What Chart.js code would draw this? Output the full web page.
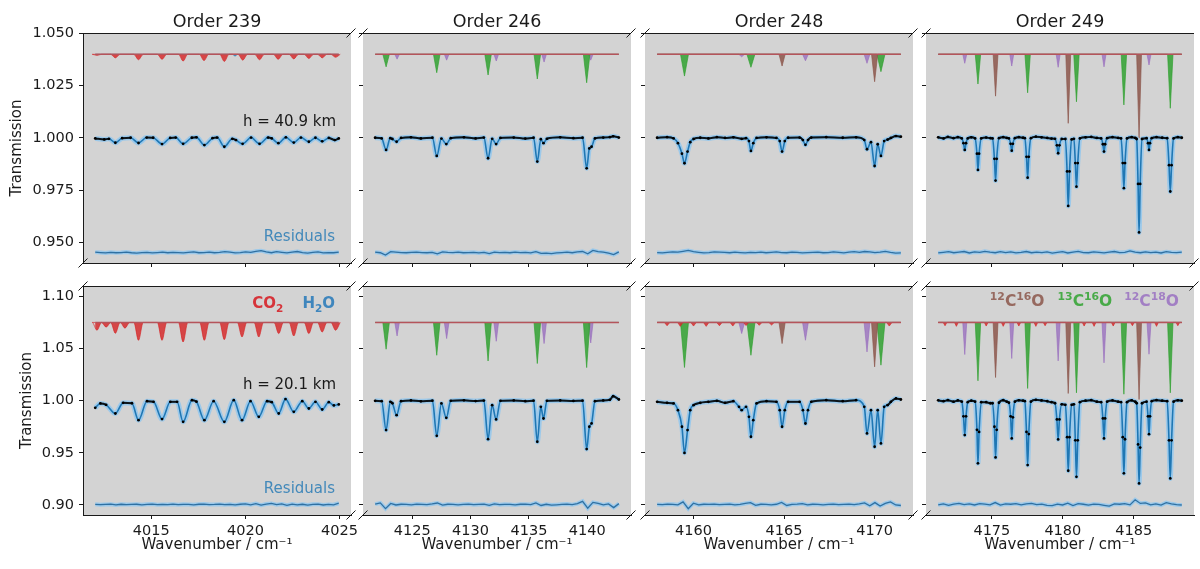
<!DOCTYPE html>
<html>
<head>
<meta charset="utf-8">
<script src="https://cdn.jsdelivr.net/npm/chart.js@4.4.0/dist/chart.umd.min.js"></script>
<style>
  html, body { margin: 0; padding: 0; background: #fff; }
  #fig { position: relative; width: 1200px; height: 569px; overflow: hidden; }
  #fig canvas { position: absolute; }
</style>
</head>
<body>
<div id="fig"></div>
<script>
// ---- spectra: [wavenumber, transmission] ----
const spec239Top = [[4012.02,0.9998],[4012.5,0.9993],[4012.75,0.9996],[4013.09,0.9977],[4013.45,0.9999],[4013.9,1.0001],[4014.32,0.9976],[4014.75,1.0002],[4015.1,1.0001],[4015.57,0.9971],[4016.0,1.0000],[4016.3,1.0002],[4016.69,0.9972],[4017.15,1.0001],[4017.4,1.0003],[4017.82,0.9966],[4018.25,0.9999],[4018.5,1.0002],[4018.88,0.9958],[4019.3,0.9996],[4019.5,0.9990],[4019.85,0.9972],[4020.3,1.0002],[4020.75,0.9972],[4021.2,1.0002],[4021.4,0.9998],[4021.75,0.9975],[4022.15,1.0003],[4022.57,0.9978],[4022.95,1.0002],[4023.37,0.9982],[4023.72,1.0001],[4024.08,0.9984],[4024.43,1.0000],[4024.75,0.9990],[4024.96,0.9998]];
const spec239Bot = [[4012.02,0.9931],[4012.29,0.9973],[4012.6,0.9960],[4013.09,0.9877],[4013.5,0.9979],[4013.97,0.9975],[4014.32,0.9813],[4014.77,0.9995],[4015.12,0.9989],[4015.57,0.9823],[4016.01,0.9989],[4016.37,0.9989],[4016.69,0.9797],[4017.16,1.0005],[4017.4,0.9990],[4017.82,0.9813],[4018.31,0.9995],[4018.88,0.9797],[4019.38,1.0005],[4019.82,0.9813],[4020.27,0.9995],[4020.71,0.9845],[4021.15,0.9995],[4021.4,0.9985],[4021.77,0.9877],[4022.13,1.0015],[4022.57,0.9893],[4023.02,0.9995],[4023.37,0.9925],[4023.72,0.9989],[4024.08,0.9915],[4024.43,0.9985],[4024.70,0.9954],[4024.96,0.9964]];
const spec246Top = [[4121.82,1.0001],[4122.38,0.9998],[4122.76,0.9943],[4123.12,0.9999],[4123.3,0.9995],[4123.66,0.9982],[4124.04,1.0],[4124.89,1.0003],[4125.74,0.9998],[4126.73,1.0001],[4127.1,0.9914],[4127.5,0.9997],[4127.92,0.9971],[4128.3,0.9999],[4129.43,1.0003],[4130.43,0.9998],[4131.14,1.0002],[4131.5,0.9903],[4131.85,0.9996],[4132.19,0.9971],[4132.56,1.0],[4133.7,1.0002],[4134.69,0.9997],[4135.4,1.0001],[4135.72,0.9887],[4136.02,0.9994],[4136.25,0.9975],[4136.54,0.9996],[4137.68,1.0003],[4138.81,0.9999],[4139.6,1.0001],[4139.95,0.9855],[4140.18,0.9950],[4140.37,0.9958],[4140.66,0.9998],[4141.37,1.0002],[4141.94,1.0004],[4142.22,1.0008],[4142.71,1.0002]];
const spec246Bot = [[4121.82,0.9998],[4122.38,0.9995],[4122.76,0.9718],[4123.12,0.9989],[4123.3,0.9975],[4123.66,0.9861],[4124.04,0.9995],[4124.89,1.0002],[4125.74,0.9994],[4126.73,1.0],[4127.1,0.9663],[4127.5,0.9973],[4127.92,0.9835],[4128.3,0.9998],[4129.43,1.0003],[4130.43,0.9996],[4131.14,1.0001],[4131.5,0.9631],[4131.85,0.9957],[4132.19,0.982],[4132.56,0.9998],[4133.7,1.0002],[4134.69,0.9995],[4135.4,1.0],[4135.72,0.9606],[4136.02,0.9941],[4136.25,0.9829],[4136.54,0.9998],[4137.68,1.0002],[4138.81,0.9997],[4139.6,1.0],[4139.95,0.9536],[4140.18,0.975],[4140.37,0.9782],[4140.66,0.9995],[4141.37,1.0002],[4141.94,1.0008],[4142.22,1.0043],[4142.71,1.0011]];
const spec248Top = [[4157.99,1.0001],[4158.54,1.0004],[4158.9,0.9998],[4159.14,0.9975],[4159.36,0.9925],[4159.5,0.9879],[4159.67,0.9935],[4159.82,0.9980],[4160.0,0.9995],[4160.37,1.0001],[4160.82,0.9998],[4161.29,1.0004],[4161.74,1.0],[4162.2,1.0003],[4162.66,0.9996],[4162.9,0.9999],[4163.06,0.9985],[4163.17,0.9938],[4163.3,0.9975],[4163.48,1.0],[4164.03,1.0003],[4164.58,1.0],[4164.76,0.9985],[4164.89,0.9935],[4165.04,0.9985],[4165.22,1.0001],[4165.86,1.0002],[4166.04,0.9990],[4166.18,0.9967],[4166.32,0.9990],[4166.5,1.0002],[4167.33,1.0004],[4168.24,1.0001],[4168.98,1.0003],[4169.43,0.9990],[4169.58,0.9946],[4169.8,0.9980],[4170.0,0.9866],[4170.17,0.9970],[4170.35,0.9914],[4170.53,0.9985],[4170.71,0.9992],[4170.9,1.0],[4171.18,1.0009],[4171.45,1.0006]];
const spec248Bot = [[4157.99,0.9989],[4158.54,0.9979],[4158.9,0.9973],[4159.14,0.9909],[4159.36,0.975],[4159.5,0.9499],[4159.67,0.9718],[4159.82,0.9909],[4160.0,0.9957],[4160.37,0.9979],[4160.82,0.9989],[4161.29,0.9998],[4161.74,0.9979],[4162.2,0.9995],[4162.51,0.9941],[4162.66,0.9909],[4162.9,0.9941],[4163.06,0.9845],[4163.17,0.9654],[4163.3,0.9813],[4163.48,0.9973],[4164.03,0.9995],[4164.58,0.9989],[4164.76,0.9909],[4164.89,0.975],[4165.04,0.9909],[4165.22,0.9989],[4165.86,0.9989],[4166.04,0.9909],[4166.18,0.9781],[4166.32,0.9909],[4166.5,0.9989],[4167.33,1.0005],[4168.24,0.9995],[4168.98,1.0005],[4169.43,0.9941],[4169.58,0.9686],[4169.8,0.9909],[4170.0,0.9558],[4170.17,0.9909],[4170.35,0.959],[4170.53,0.9941],[4170.71,0.9957],[4170.9,0.9989],[4171.18,1.0021],[4171.45,1.0011]];
const spec249Top = [[4171.22,1.0003],[4171.6,0.9998],[4171.9,1.0005],[4172.3,0.9999],[4172.6,1.0004],[4172.88,0.9998],[4173.0,0.9975],[4173.09,0.9943],[4173.18,0.9975],[4173.3,0.9998],[4173.55,1.0003],[4173.82,0.9998],[4173.95,0.9925],[4174.02,0.9847],[4174.1,0.9925],[4174.25,0.9998],[4174.6,1.0002],[4174.9,0.9999],[4175.05,0.9998],[4175.18,0.990],[4175.26,0.9796],[4175.34,0.990],[4175.5,0.9999],[4175.8,1.0004],[4176.05,1.0],[4176.2,0.9998],[4176.32,0.9972],[4176.4,0.9939],[4176.48,0.9972],[4176.62,0.9999],[4176.9,1.0004],[4177.2,1.0001],[4177.32,0.9999],[4177.44,0.991],[4177.52,0.981],[4177.6,0.991],[4177.75,0.9999],[4178.1,1.0006],[4178.5,1.0003],[4178.9,1.0],[4179.2,0.9997],[4179.45,0.9996],[4179.58,0.9965],[4179.67,0.9927],[4179.76,0.9965],[4179.92,0.9995],[4180.18,0.9995],[4180.3,0.984],[4180.38,0.9675],[4180.47,0.984],[4180.62,0.9993],[4180.78,0.9996],[4180.88,0.988],[4180.96,0.9767],[4181.05,0.988],[4181.2,0.9998],[4181.6,1.0003],[4182.0,1.0005],[4182.4,1.0],[4182.7,0.9998],[4182.82,0.997],[4182.9,0.9935],[4182.98,0.997],[4183.12,0.9999],[4183.5,1.0004],[4183.9,1.0],[4184.1,0.9998],[4184.22,0.988],[4184.3,0.976],[4184.38,0.988],[4184.52,0.9998],[4184.85,1.0004],[4185.1,1.0],[4185.2,0.9995],[4185.3,0.978],[4185.37,0.9548],[4185.45,0.978],[4185.58,0.9995],[4185.9,0.9999],[4186.0,0.9975],[4186.07,0.9943],[4186.14,0.9975],[4186.26,0.9999],[4186.6,1.0004],[4187.0,1.0001],[4187.35,0.9999],[4187.48,0.987],[4187.57,0.9744],[4187.66,0.987],[4187.8,0.9998],[4188.1,1.0004],[4188.38,1.0001]];
const spec249Bot = [[4171.22,1.0003],[4171.6,0.9995],[4171.9,1.0005],[4172.3,0.9990],[4172.6,1.0002],[4172.88,0.9990],[4173.0,0.985],[4173.09,0.967],[4173.18,0.985],[4173.3,0.9985],[4173.55,1.0000],[4173.82,0.9990],[4173.95,0.972],[4174.02,0.9399],[4174.1,0.970],[4174.25,0.9985],[4174.6,0.9985],[4174.9,0.9975],[4175.05,0.9975],[4175.18,0.975],[4175.26,0.9456],[4175.34,0.972],[4175.5,0.9980],[4175.8,1.0005],[4176.05,0.9990],[4176.2,0.9980],[4176.32,0.985],[4176.4,0.9638],[4176.48,0.984],[4176.62,0.9990],[4176.9,1.0003],[4177.2,1.0],[4177.32,0.9995],[4177.44,0.970],[4177.52,0.9383],[4177.6,0.968],[4177.75,0.9990],[4178.1,1.0008],[4178.5,1.0002],[4178.9,0.9995],[4179.2,0.9985],[4179.45,0.9975],[4179.58,0.982],[4179.67,0.9628],[4179.76,0.982],[4179.92,0.9965],[4180.18,0.9960],[4180.3,0.965],[4180.38,0.9328],[4180.47,0.965],[4180.62,0.9960],[4180.78,0.9965],[4180.88,0.962],[4180.96,0.927],[4181.05,0.962],[4181.2,0.9985],[4181.6,1.0],[4182.0,1.0005],[4182.4,0.9990],[4182.7,0.9985],[4182.82,0.983],[4182.9,0.9638],[4182.98,0.983],[4183.12,0.9990],[4183.5,1.0002],[4183.9,0.9990],[4184.1,0.9985],[4184.22,0.965],[4184.3,0.9303],[4184.38,0.963],[4184.52,0.9985],[4184.85,1.0003],[4185.1,0.9990],[4185.2,0.9975],[4185.3,0.958],[4185.37,0.9207],[4185.45,0.955],[4185.58,0.9975],[4185.9,0.9990],[4186.0,0.985],[4186.07,0.9679],[4186.14,0.985],[4186.26,0.9995],[4186.6,1.0005],[4187.0,1.0],[4187.35,0.9995],[4187.48,0.962],[4187.57,0.9255],[4187.66,0.962],[4187.8,0.9990],[4188.1,1.0003],[4188.38,1.0]];

// ---- residuals (units of 1e-4), evenly sampled over each order ----
const res239Top = [2,0,-2,1,-1,0,2,-1,-3,0,1,-2,0,2,-1,1,0,-2,1,3,-1,0,2,-1,1,4,2,-2,0,3,1,6,9,3,-1,4,1,-2,2,5,0,-3,1,3,-2,0,-1,2];
const res239Bot = [1,-2,0,3,-4,2,-1,0,2,-3,1,4,-2,0,-1,3,-2,1,0,-3,2,4,-1,0,3,-2,1,-4,2,5,-3,8,-6,4,10,-2,5,-8,3,-4,2,-6,1,3,-5,0,-3,12];
const res246Top = [2,-1,-12,4,2,0,-1,1,2,0,-1,1,-6,3,1,0,2,-1,0,1,-2,1,-5,2,0,1,-1,2,0,1,-2,4,-4,-3,-5,-2,0,2,-1,3,5,-6,10,4,2,-3,-10,3];
const res246Bot = [3,15,-40,10,-5,2,0,-3,4,1,-2,5,14,-6,2,0,-3,1,4,-2,0,3,-8,6,-2,1,0,-4,2,3,-1,15,-10,2,-6,-3,1,4,-2,8,30,-35,20,10,-4,5,-30,8];
const res248Top = [0,-2,1,3,2,6,10,4,1,-2,0,3,2,1,-1,2,0,-2,1,0,2,-1,1,3,0,-1,2,1,-2,0,1,2,-1,0,3,1,-2,2,4,1,5,3,0,2,6,1,-3,-2];
const res248Bot = [0,-2,3,1,-3,25,-40,12,-4,2,0,3,-2,1,4,-3,0,10,18,-8,2,0,-3,2,20,-10,1,3,8,-4,2,0,-3,1,4,-2,0,3,-2,5,15,-12,18,-15,10,25,-5,-10];
const res249Top = [-2,1,4,-1,2,5,-2,3,1,6,2,-1,4,0,3,-2,1,5,-1,2,0,3,-3,1,4,-2,2,6,0,-1,3,1,-2,2,5,0,1,8,2,-1,3,0,2,-2,4,1,0,2];
const res249Bot = [-3,5,-8,4,10,-2,6,-5,8,3,-4,18,-6,5,2,8,-3,6,10,-2,4,-8,-12,3,-5,12,-10,8,2,-6,4,0,-8,-15,5,2,8,-4,45,10,15,-3,5,-6,18,6,-2,-5];

// ---- molecular contributions: [line centre, minimum of offset curve] ----
const co2_239Top = [[4012.11,1.0395],[4013.09,1.0383],[4014.32,1.0374],[4015.57,1.0376],[4016.69,1.0368],[4017.8,1.0370],[4018.88,1.0366],[4019.86,1.0372],[4020.75,1.0374],[4021.74,1.0376],[4022.57,1.0378],[4023.37,1.0380],[4024.08,1.0383],[4024.79,1.0386]];
const h2o_239Top = [[4019.45,1.0392]];
const co2_239Bot = [[4012.11,1.0675],[4012.6,1.0705],[4013.09,1.0646],[4013.6,1.0695],[4014.32,1.0579],[4015.57,1.0579],[4016.69,1.0563],[4017.82,1.0579],[4018.88,1.0585],[4019.82,1.0610],[4020.71,1.0610],[4021.77,1.0643],[4022.57,1.0620],[4023.37,1.0643],[4024.08,1.0658],[4024.79,1.0675]];
const c13o16_246Top = [[4122.76,1.034],[4127.1,1.0312],[4131.5,1.0301],[4135.72,1.0282],[4139.95,1.0264]];
const c12o18_246Top = [[4123.7,1.0377],[4127.95,1.0372],[4132.2,1.0368],[4136.3,1.0363],[4140.3,1.0372]];
const c13o16_246Bot = [[4122.76,1.0493],[4127.1,1.0435],[4131.5,1.038],[4135.72,1.0356],[4139.95,1.0317]];
const c12o18_246Bot = [[4123.7,1.062],[4127.95,1.0595],[4132.2,1.0569],[4136.3,1.0547],[4140.3,1.0553]];
const c13o16_248Top = [[4159.5,1.0296],[4163.17,1.0338],[4170.35,1.0317]];
const c12o16_248Top = [[4164.89,1.0344],[4170.0,1.0269]];
const c12o18_248Top = [[4162.66,1.0388],[4166.18,1.0369],[4169.58,1.0357]];
const c13o16_248Bot = [[4159.5,1.0318],[4163.17,1.0435],[4170.35,1.034]];
const c12o16_248Bot = [[4164.89,1.0547],[4170.0,1.0324]];
const c12o18_248Bot = [[4162.66,1.0643],[4166.18,1.0579],[4169.58,1.0467]];
const co2_248Bot = [[4158.54,1.0718],[4159.27,1.0712],[4160.0,1.0715],[4160.7,1.0712],[4161.43,1.0718],[4162.17,1.0715],[4162.9,1.0720],[4163.63,1.0722],[4164.31,1.0725],[4170.81,1.0715]];
const c12o18_249Top = [[4173.09,1.0357],[4176.4,1.0344],[4179.67,1.0338],[4182.9,1.034],[4186.07,1.0349]];
const c13o16_249Top = [[4174.02,1.0258],[4177.52,1.0216],[4180.96,1.0173],[4184.3,1.0158],[4187.57,1.0142]];
const c12o16_249Top = [[4175.26,1.02],[4180.38,1.007],[4185.37,0.9999]];
const c12o18_249Bot = [[4173.09,1.0442],[4176.4,1.0404],[4179.67,1.0381],[4182.9,1.0362],[4186.07,1.0445]];
const c13o16_249Bot = [[4174.02,1.019],[4177.52,1.0117],[4180.96,1.0075],[4184.3,1.0062],[4187.57,1.0075]];
const c12o16_249Bot = [[4175.26,1.0222],[4180.38,1.0069],[4185.37,1.0011]];
const co2_249Bot = [[4171.7,1.0718],[4172.5,1.0712],[4174.6,1.0715],[4175.8,1.0712],[4176.9,1.0715],[4178.1,1.0712],[4178.75,1.0718],[4181.5,1.0715],[4182.2,1.0712],[4183.55,1.0715],[4184.9,1.0718],[4186.6,1.0712],[4188.1,1.0718]];

// offsets used in the plot, axis limits and ticks
const fillBase = [1.040, 1.075];
const resOffset = [0.9452, 0.9005];
const xLimits = [[4011.37, 4025.61], [4120.78, 4143.75], [4157.32, 4172.12], [4170.36, 4189.24]];
const yLimits = [[0.9402, 1.0502], [0.8904, 1.1099]];
const yStep = [0.025, 0.05];
const orderTitles = ['Order 239', 'Order 246', 'Order 248', 'Order 249'];
const altitudes = ['h = 40.9 km', 'h = 20.1 km'];

// line half widths (cm-1) per column and molecule
const halfWidth = [
  {co2: 0.25, h2o: 0.15},
  {c13o16: 0.28, c12o18: 0.2},
  {c13o16: 0.22, c12o16: 0.17, c12o18: 0.16, co2: 0.15},
  {c13o16: 0.19, c12o16: 0.17, c12o18: 0.14, co2: 0.13}
];
const molColor = {
  co2: 'rgba(214,39,40,0.82)',
  h2o: 'rgba(31,119,180,0.8)',
  c12o16: 'rgba(140,86,75,0.85)',
  c13o16: 'rgba(44,160,44,0.82)',
  c12o18: 'rgba(148,103,189,0.72)'
};

const panels = [
  {col: 0, row: 0, spec: spec239Top, res: res239Top, fills: [['co2', co2_239Top], ['h2o', h2o_239Top]]},
  {col: 0, row: 1, spec: spec239Bot, res: res239Bot, fills: [['co2', co2_239Bot]]},
  {col: 1, row: 0, spec: spec246Top, res: res246Top, fills: [['c12o18', c12o18_246Top], ['c13o16', c13o16_246Top]]},
  {col: 1, row: 1, spec: spec246Bot, res: res246Bot, fills: [['c12o18', c12o18_246Bot], ['c13o16', c13o16_246Bot]]},
  {col: 2, row: 0, spec: spec248Top, res: res248Top, fills: [['c12o18', c12o18_248Top], ['c13o16', c13o16_248Top], ['c12o16', c12o16_248Top]]},
  {col: 2, row: 1, spec: spec248Bot, res: res248Bot, fills: [['c12o18', c12o18_248Bot], ['c13o16', c13o16_248Bot], ['c12o16', c12o16_248Bot], ['co2', co2_248Bot]]},
  {col: 3, row: 0, spec: spec249Top, res: res249Top, fills: [['c12o18', c12o18_249Top], ['c13o16', c13o16_249Top], ['c12o16', c12o16_249Top]]},
  {col: 3, row: 1, spec: spec249Bot, res: res249Bot, fills: [['c12o18', c12o18_249Bot], ['c13o16', c13o16_249Bot], ['c12o16', c12o16_249Bot], ['co2', co2_249Bot]]}
];

// layout of the figure
const colLeft = [83, 363, 645, 926];
const panelW = 268;
const rowTop = [33, 286];
const rowH = [230, 229];
const FONT = '"DejaVu Sans", sans-serif';
const INK = '#1a1a1a';

Chart.defaults.font.family = FONT;
Chart.defaults.color = INK;

function fillPoints(lines, base, hw, x0, x1) {
  const pts = [[x0, base]];
  lines.forEach(([c, v]) => {
    pts.push([c - hw, base], [c, v], [c + hw, base]);
  });
  if (x1 > pts[pts.length - 1][0]) pts.push([x1, base]);
  return pts;
}

function drawRich(ctx, parts, xRight, yBase, size, color) {
  let w = 0;
  parts.forEach(([t, k]) => {
    ctx.font = 'bold ' + (k === 'n' ? size : size * 0.7) + 'px ' + FONT;
    w += ctx.measureText(t).width;
  });
  let x = xRight - w;
  const left = x;
  ctx.fillStyle = color;
  ctx.textAlign = 'left';
  ctx.textBaseline = 'alphabetic';
  parts.forEach(([t, k]) => {
    const s = k === 'n' ? size : size * 0.7;
    ctx.font = 'bold ' + s + 'px ' + FONT;
    const dy = k === 'sup' ? -size * 0.42 : (k === 'sub' ? size * 0.24 : 0);
    ctx.fillText(t, x, yBase + dy);
    x += ctx.measureText(t).width;
  });
  return left;
}

const panelDeco = {
  id: 'panelDeco',
  beforeDraw(chart) {
    const {ctx, chartArea: a} = chart;
    ctx.save();
    ctx.fillStyle = '#d3d3d3';
    ctx.fillRect(a.left, a.top, a.width, a.height);
    ctx.restore();
  },
  afterDraw(chart, args, o) {
    const {ctx, chartArea: a} = chart;
    const y = chart.scales.y;
    ctx.save();
    ctx.strokeStyle = INK;
    ctx.lineWidth = 1;
    ctx.beginPath();
    ctx.moveTo(a.left, a.top + 0.5);
    ctx.lineTo(a.right, a.top + 0.5);
    ctx.stroke();
    // broken-axis marks
    const d = 4.5;
    const corners = [];
    if (o.tl) corners.push([a.left, a.top]);
    if (o.tr) corners.push([a.right, a.top]);
    if (o.bl) corners.push([a.left, a.bottom]);
    if (o.br) corners.push([a.right, a.bottom]);
    corners.forEach(([cx, cy]) => {
      ctx.beginPath();
      ctx.moveTo(cx - d, cy + d);
      ctx.lineTo(cx + d, cy - d);
      ctx.stroke();
    });
    ctx.textBaseline = 'alphabetic';
    if (o.title) {
      ctx.font = '17.5px ' + FONT;
      ctx.fillStyle = INK;
      ctx.textAlign = 'center';
      ctx.fillText(o.title, (a.left + a.right) / 2, a.top - 6);
    }
    if (o.alt) {
      ctx.font = '15px ' + FONT;
      ctx.fillStyle = INK;
      ctx.textAlign = 'right';
      ctx.fillText(o.alt, a.right - 15, y.getPixelForValue(o.row === 0 ? 1.0057 : 1.011));
      ctx.fillStyle = '#4389ba';
      ctx.fillText('Residuals', a.right - 16, y.getPixelForValue(o.row === 0 ? 0.9505 : 0.9112));
    }
    if (o.legend === 'main') {
      const yb = y.getPixelForValue(1.0888);
      const l = drawRich(ctx, [['H', 'n'], ['2', 'sub'], ['O', 'n']], a.right - 16, yb, 15, '#3f86bd');
      drawRich(ctx, [['CO', 'n'], ['2', 'sub']], l - 19, yb, 15, '#d6343a');
    }
    if (o.legend === 'iso') {
      const yb = y.getPixelForValue(1.0904);
      let r = a.right - 15;
      r = drawRich(ctx, [['12', 'sup'], ['C', 'n'], ['18', 'sup'], ['O', 'n']], r, yb, 15.5, '#a27fc4') - 12;
      r = drawRich(ctx, [['13', 'sup'], ['C', 'n'], ['16', 'sup'], ['O', 'n']], r, yb, 15.5, '#48aa48') - 13;
      drawRich(ctx, [['12', 'sup'], ['C', 'n'], ['16', 'sup'], ['O', 'n']], r, yb, 15.5, '#96695f');
    }
    ctx.restore();
  }
};

const fig = document.getElementById('fig');

panels.forEach(p => {
  const r = p.row, c = p.col;
  const L = colLeft[c], T = rowTop[r], W = panelW, H = rowH[r];
  const padL = c === 0 ? L : 12;
  const padT = r === 0 ? T : 10;
  const padB = r === 1 ? 569 - (T + H) : 10;
  const padR = 10;
  const cv = document.createElement('canvas');
  cv.width = padL + W + padR;
  cv.height = padT + H + padB;
  cv.style.left = (L - padL) + 'px';
  cv.style.top = (T - padT) + 'px';
  fig.appendChild(cv);

  const x0 = p.spec[0][0], x1 = p.spec[p.spec.length - 1][0];
  const base = fillBase[r];
  const thr = r === 0 ? 0.9985 : 0.9955;
  const datasets = [];
  p.fills.forEach(([mol, lines], k) => {
    datasets.push({
      data: fillPoints(lines, base, halfWidth[c][mol], x0, x1),
      borderColor: molColor[mol], backgroundColor: molColor[mol],
      borderWidth: 0.8, pointRadius: 0,
      cubicInterpolationMode: c === 0 ? 'monotone' : 'default', tension: 0,
      fill: {value: base}, order: 30 - k
    });
  });
  datasets.push({data: [[x0, base], [x1, base]], borderColor: '#b5545b', borderWidth: 1.5, pointRadius: 0, order: 12});
  datasets.push({data: p.spec.slice(), borderColor: 'rgba(150,200,236,0.9)', borderWidth: 5, pointRadius: 0,
    cubicInterpolationMode: 'monotone', order: 11});
  datasets.push({data: p.spec.slice(), borderColor: '#1f77b4', borderWidth: 1.6, pointRadius: 0,
    cubicInterpolationMode: 'monotone', order: 10});
  datasets.push({data: p.spec.slice(), borderColor: '#111', borderWidth: 2, pointRadius: 1.4,
    pointBackgroundColor: '#000', pointBorderWidth: 0, cubicInterpolationMode: 'monotone',
    segment: {borderColor: s => (s.p0.parsed.y > thr && s.p1.parsed.y > thr) ? 'rgba(12,12,12,0.92)' : 'rgba(0,0,0,0)'},
    order: 9});
  const resPts = p.res.map((v, i) => [x0 + (x1 - x0) * i / (p.res.length - 1), resOffset[r] + v * 1e-4]);
  datasets.push({data: resPts, borderColor: 'rgba(150,200,236,0.9)', borderWidth: 4, pointRadius: 0, order: 8});
  datasets.push({data: resPts.slice(), borderColor: '#2f70a2', borderWidth: 1.3, pointRadius: 0, order: 7});

  const tickFont = {family: FONT, size: 14.5};
  const gridOpt = {drawOnChartArea: false, drawTicks: true, tickLength: 4, tickColor: INK, tickWidth: 1};
  // fixed axis boxes, no automatic label padding
  const fixBox = (s, w, h) => {
    if (w !== null) s.width = w;
    if (h !== null) s.height = h;
    s.paddingTop = 0; s.paddingBottom = 0; s.paddingLeft = 0; s.paddingRight = 0;
  };

  new Chart(cv, {
    type: 'line',
    data: {datasets},
    plugins: [panelDeco],
    options: {
      responsive: false, animation: false, devicePixelRatio: 1, events: [],
      layout: {padding: {top: padT, right: padR, left: 0, bottom: 0}, autoPadding: false},
      plugins: {
        legend: {display: false}, tooltip: {enabled: false},
        panelDeco: {
          row: r,
          title: r === 0 ? orderTitles[c] : null,
          alt: c === 0 ? altitudes[r] : null,
          legend: (c === 0 && r === 1) ? 'main' : ((c === 3 && r === 1) ? 'iso' : null),
          tl: !(c === 0 && r === 0), tr: !(c === 3 && r === 0),
          bl: !(c === 0 && r === 1), br: !(c === 3 && r === 1)
        }
      },
      scales: {
        x: {
          type: 'linear', position: 'bottom', min: xLimits[c][0], max: xLimits[c][1],
          afterFit: s => fixBox(s, null, padB),
          ticks: {display: r === 1, stepSize: 5, includeBounds: false, autoSkip: false, maxRotation: 0,
            callback: v => String(v), font: tickFont, color: INK, padding: 4},
          grid: gridOpt,
          border: {display: true, color: INK, width: 1},
          title: {display: r === 1, text: 'Wavenumber / cm\u207B\u00B9', font: {family: FONT, size: 15}, color: INK,
            padding: {top: 0, bottom: 15}}
        },
        y: {
          type: 'linear', position: 'left', min: yLimits[r][0], max: yLimits[r][1],
          afterFit: s => fixBox(s, padL, null),
          ticks: {display: c === 0, stepSize: yStep[r], includeBounds: false, autoSkip: false,
            callback: v => v.toFixed(r === 0 ? 3 : 2), font: tickFont, color: INK, padding: 5},
          grid: gridOpt,
          border: {display: c === 0, color: INK, width: 1},
          title: {display: c === 0, text: 'Transmission', font: {family: FONT, size: 15}, color: INK,
            padding: {top: r === 0 ? 8.5 : 18, bottom: 0}}
        }
      }
    }
  });
});
</script>
</body>
</html>
